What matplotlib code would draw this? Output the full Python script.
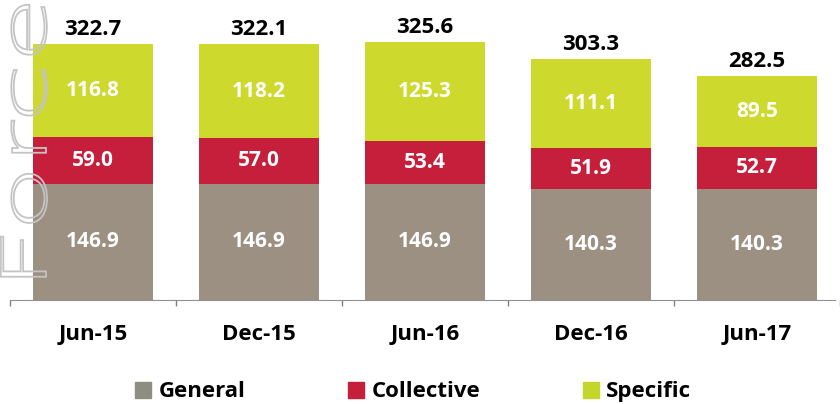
import matplotlib.pyplot as plt
import numpy as np
from matplotlib.lines import Line2D
from matplotlib.textpath import TextPath
from matplotlib.patches import PathPatch
from matplotlib.font_manager import FontProperties
from matplotlib.transforms import Affine2D

# --- data ---
periods = ['Jun-15', 'Dec-15', 'Jun-16', 'Dec-16', 'Jun-17']
general = [146.9, 146.9, 146.9, 140.3, 140.3]
collective = [59.0, 57.0, 53.4, 51.9, 52.7]
specific = [116.8, 118.2, 125.3, 111.1, 89.5]
totals = [322.7, 322.1, 325.6, 303.3, 282.5]

series_names = ['General', 'Collective', 'Specific']
colors = ['#9c9082', '#c51f3c', '#cdd92c']
legend_colors = ['#8e8e80', '#c51f3c', '#c4d62a']

plt.rcParams['font.family'] = ['Open Sans', 'DejaVu Sans']

fig = plt.figure(figsize=(8.4, 4.04), dpi=100)
ax = fig.add_axes([0.0, 0.257, 1.0, 0.743])

x = np.arange(len(periods))
width = 0.72
bottom = np.zeros(len(periods))
for vals, col in zip([general, collective, specific], colors):
    vals = np.array(vals)
    ax.bar(x, vals, width, bottom=bottom, color=col, edgecolor='none')
    for xi, b, v in zip(x, bottom, vals):
        ax.text(xi, b + v / 2, f'{v:.1f}', ha='center', va='center',
                color='white', fontsize=15, fontweight='bold')
    bottom += vals

for xi, t, top in zip(x, totals, bottom):
    ax.text(xi, top + 5, f'{t:.1f}', ha='center', va='bottom',
            color='black', fontsize=16, fontweight='bold')

ax.set_xlim(-0.56, 4.47)
ax.set_ylim(0, 378)

# category boundaries as ticks, labels at centers
ax.set_xticks(np.arange(len(periods) + 1) - 0.5)
ax.set_xticklabels([])
ax.set_xticks(x, minor=True)
ax.set_xticklabels(periods, minor=True, fontsize=16, fontweight='bold')
ax.tick_params(axis='x', which='major', length=4, color='#808080', width=1)
ax.tick_params(axis='x', which='minor', length=0, pad=17)
ax.set_yticks([])

for s in ['top', 'right', 'left']:
    ax.spines[s].set_visible(False)
ax.spines['bottom'].set_color('#909090')
ax.spines['bottom'].set_bounds(-0.5, 4.47)

# outline watermark on the left
fp = FontProperties(family='DejaVu Sans', weight='light')
tp = TextPath((0, 0), 'Force', size=62, prop=fp)
tr = Affine2D().scale(1.75, 1.0).rotate_deg(90).translate(46, 114)
wm = PathPatch(tr.transform_path(tp), facecolor='none', edgecolor='#c4c4c4',
               lw=1.3, transform=None)
fig.patches.append(wm)

handles = [Line2D([0], [0], marker='s', linestyle='none', markersize=11.5,
                  markerfacecolor=c, markeredgecolor=c) for c in legend_colors]
fig.legend(handles, series_names, loc='center', bbox_to_anchor=(0.492, 0.03),
           ncol=3, frameon=False, prop={'size': 16, 'weight': 'bold'},
           handlelength=0.75, handletextpad=0.32, columnspacing=4.6)

fig.savefig('out.png', dpi=100)
